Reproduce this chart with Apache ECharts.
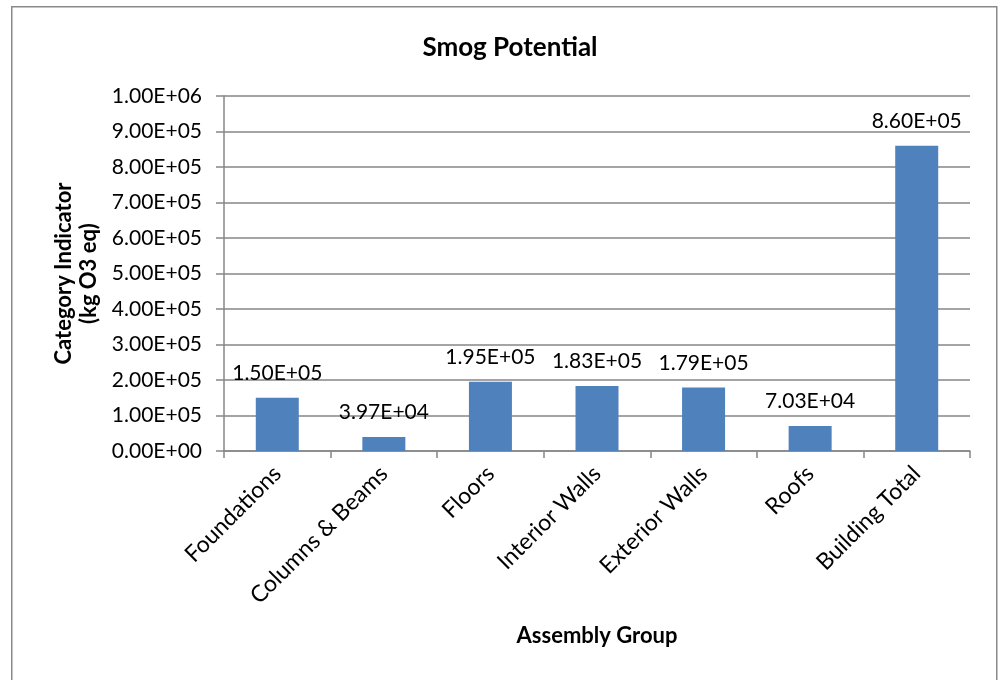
<!DOCTYPE html>
<html>
<head>
<meta charset="utf-8">
<script src="https://cdn.jsdelivr.net/npm/echarts@6/dist/echarts.min.js"></script>
<style>
html,body{margin:0;padding:0;background:#fff;}
#chart{width:1000px;height:680px;}
</style>
</head>
<body>
<div id="chart"></div>
<script>
const categories = ["Foundations", "Columns & Beams", "Floors", "Interior Walls", "Exterior Walls", "Roofs", "Building Total"];
const values = [150000, 39700, 195000, 183000, 179000, 70300, 860000];
const yMin = 0, yMax = 1000000, yStep = 100000;

function sci(v) {
  if (v === 0) return "0.00E+00";
  const s = Number(v).toExponential(2).toUpperCase();
  const m = s.match(/^(-?[\d.]+)E([+-])(\d+)$/);
  let e = m[3]; if (e.length < 2) e = "0" + e;
  return m[1] + "E" + m[2] + e;
}

const FONT = "Lato";
const chart = echarts.init(document.getElementById("chart"));
chart.setOption({
  backgroundColor: "#ffffff",
  animation: false,
  textStyle: { fontFamily: FONT, color: "#000" },
  graphic: [{
    type: "rect", left: 11, top: 6, z: -1,
    shape: { width: 985, height: 690 },
    style: { fill: "#ffffff", stroke: "#898989", lineWidth: 1.5 }
  }],
  title: {
    text: "Smog Potential", left: 505, top: 30, textAlign: "center",
    textStyle: { fontFamily: FONT, fontWeight: "bold", fontSize: 26, color: "#000" }
  },
  grid: { left: 224, right: 30, top: 96, bottom: 229, containLabel: false },
  xAxis: {
    type: "category", data: categories,
    name: "Assembly Group", nameLocation: "middle", nameGap: 174,
    nameTextStyle: { fontFamily: FONT, fontWeight: "bold", fontSize: 22, color: "#000" },
    axisLine: { show: true, lineStyle: { color: "#868686", width: 1.5 } },
    axisTick: { show: true, alignWithLabel: false, length: 7, lineStyle: { color: "#868686", width: 1.5 } },
    axisLabel: { rotate: 45, fontSize: 23, color: "#000", margin: 19, interval: 0, fontFamily: FONT },
    splitLine: { show: false }
  },
  yAxis: {
    type: "value", min: yMin, max: yMax, interval: yStep,
    name: "Category Indicator\n(kg O3 eq)", nameLocation: "middle", nameGap: 123, nameRotate: 90,
    nameTextStyle: { fontFamily: FONT, fontWeight: "bold", fontSize: 22, color: "#000", lineHeight: 25, align: "center" },
    axisLine: { show: true, lineStyle: { color: "#868686", width: 1.5 } },
    axisTick: { show: true, length: 8, lineStyle: { color: "#868686", width: 1.5 } },
    axisLabel: { formatter: sci, fontSize: 21, color: "#000", margin: 22, fontFamily: FONT },
    splitLine: { show: true, lineStyle: { color: "#868686", width: 1.5 } }
  },
  series: [{
    type: "bar", data: values, barWidth: 43,
    itemStyle: { color: "#4F81BD" },
    label: { show: true, position: "top", distance: 14, formatter: p => sci(p.value), fontSize: 21, color: "#000", fontFamily: FONT }
  }]
});
</script>
</body>
</html>
